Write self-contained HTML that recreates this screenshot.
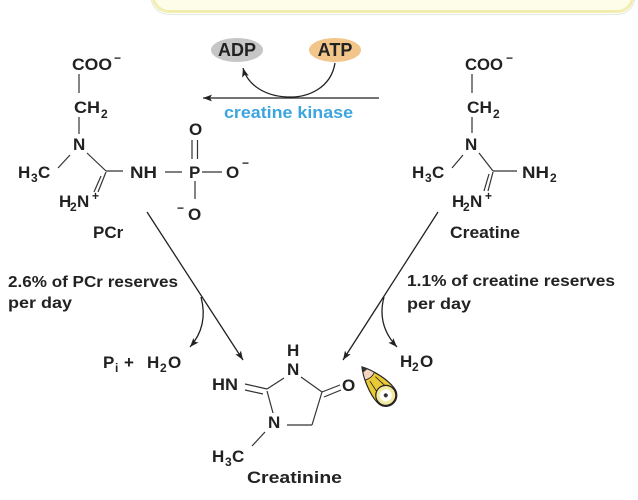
<!DOCTYPE html>
<html><head><meta charset="utf-8"><style>
html,body{margin:0;padding:0;background:#fff;}
svg{display:block;}
text{font-family:"Liberation Sans",sans-serif;font-weight:bold;fill:#222;}
.a{font-size:17px;}
.s{font-size:12px;}
.m{font-size:12px;}
.bd{stroke:#333;stroke-width:1.2;fill:none;}
.ar{stroke:#222;stroke-width:1.3;fill:none;}
</style></head><body>
<svg width="638" height="500" viewBox="0 0 638 500" xmlns="http://www.w3.org/2000/svg">
<defs>
<marker id="ah" markerUnits="userSpaceOnUse" markerWidth="10" markerHeight="8" refX="9" refY="4" orient="auto">
<path d="M0,0.6 L9,4 L0,7.4 L2,4 Z" fill="#222"/>
</marker>
</defs>
<rect x="0" y="0" width="638" height="500" fill="#fff"/>

<!-- top box -->
<rect x="151" y="-33" width="484" height="47.5" rx="18" fill="none" stroke="#dfeadf" stroke-width="1"/>
<rect x="153" y="-30" width="480" height="41.5" rx="16" fill="#fdfde9" stroke="#f2eeb0" stroke-width="3"/>

<!-- ADP / ATP -->
<ellipse cx="237" cy="50" rx="26" ry="12" fill="#c6c6c6"/>
<text x="237" y="56" font-size="18" text-anchor="middle">ADP</text>
<ellipse cx="335" cy="50" rx="26" ry="12" fill="#f2c58a"/>
<text x="335" y="56" font-size="18" text-anchor="middle">ATP</text>

<line class="ar" x1="379" y1="98" x2="203" y2="98" marker-end="url(#ah)"/>
<path class="ar" d="M335,63 C331,88 308,98 287,97 C266,96 248,86 243,68" marker-end="url(#ah)"/>
<text x="224" y="118" font-size="17" textLength="129" lengthAdjust="spacingAndGlyphs" style="fill:#3da5de">creatine kinase</text>

<!-- PCr -->
<text class="a" x="72" y="70" textLength="40" lengthAdjust="spacingAndGlyphs">COO</text>
<text class="m" x="114" y="62">−</text>
<line class="bd" x1="79" y1="74" x2="79" y2="93"/>
<text class="a" x="74" y="113" textLength="26" lengthAdjust="spacingAndGlyphs">CH</text>
<text class="s" x="101" y="118">2</text>
<line class="bd" x1="79" y1="117" x2="79" y2="134"/>
<text class="a" x="73" y="150">N</text>
<line class="bd" x1="70" y1="155" x2="58" y2="168"/>
<text class="a" x="18" y="178">H</text><text class="s" x="31" y="182">3</text><text class="a" x="38" y="178">C</text>
<line class="bd" x1="87" y1="153" x2="106" y2="171"/>
<line class="bd" x1="106" y1="171" x2="123" y2="171"/>
<line class="bd" x1="106" y1="172" x2="98" y2="192"/>
<line class="bd" x1="101" y1="176" x2="94" y2="192"/>
<text class="a" x="130" y="178" textLength="27" lengthAdjust="spacingAndGlyphs">NH</text>
<line class="bd" x1="165" y1="172" x2="182" y2="172"/>
<text class="a" x="189" y="178">P</text>
<line class="bd" x1="202" y1="172" x2="222" y2="172"/>
<text class="a" x="226" y="178">O</text>
<text class="m" x="242" y="167">−</text>
<line class="bd" x1="192" y1="140" x2="192" y2="159"/>
<line class="bd" x1="197.5" y1="140" x2="197.5" y2="159"/>
<text class="a" x="189" y="135">O</text>
<line class="bd" x1="195" y1="181" x2="195" y2="199"/>
<text class="m" x="177" y="212">−</text>
<text class="a" x="188" y="220">O</text>
<text class="a" x="59" y="207">H</text><text class="s" x="70" y="211">2</text><text class="a" x="77" y="207">N</text>
<text class="m" x="92" y="200">+</text>
<text class="a" x="93" y="238">PCr</text>

<!-- Creatine -->
<text class="a" x="465" y="70" textLength="38" lengthAdjust="spacingAndGlyphs">COO</text>
<text class="m" x="506" y="62">−</text>
<line class="bd" x1="472" y1="74" x2="472" y2="93"/>
<text class="a" x="467" y="113" textLength="25" lengthAdjust="spacingAndGlyphs">CH</text>
<text class="s" x="493" y="118">2</text>
<line class="bd" x1="472" y1="117" x2="472" y2="133"/>
<text class="a" x="465" y="150">N</text>
<line class="bd" x1="463" y1="155" x2="452" y2="168"/>
<text class="a" x="412" y="178">H</text><text class="s" x="425" y="182">3</text><text class="a" x="432" y="178">C</text>
<line class="bd" x1="479" y1="153" x2="493" y2="171"/>
<line class="bd" x1="493" y1="171" x2="517" y2="171"/>
<line class="bd" x1="493" y1="172" x2="488" y2="191"/>
<line class="bd" x1="489" y1="174" x2="484" y2="191"/>
<text class="a" x="522" y="178" textLength="27" lengthAdjust="spacingAndGlyphs">NH</text>
<text class="s" x="550" y="182">2</text>
<text class="a" x="452" y="207">H</text><text class="s" x="463" y="211">2</text><text class="a" x="470" y="207">N</text>
<text class="m" x="485" y="200">+</text>
<text x="450" y="238" font-size="17" textLength="70" lengthAdjust="spacingAndGlyphs">Creatine</text>

<!-- main arrows -->
<line class="ar" x1="147" y1="212" x2="243" y2="360" marker-end="url(#ah)"/>
<line class="ar" x1="438" y1="212" x2="343" y2="360" marker-end="url(#ah)"/>
<path class="ar" d="M201,297 C205,312 205,330 190,347" marker-end="url(#ah)"/>
<path class="ar" d="M384,297 C380,312 381,330 397,347" marker-end="url(#ah)"/>

<text x="8" y="287" font-size="16" textLength="170" lengthAdjust="spacingAndGlyphs">2.6% of PCr reserves</text>
<text x="8" y="308" font-size="16" textLength="64" lengthAdjust="spacingAndGlyphs">per day</text>
<text x="407" y="286" font-size="16" textLength="208" lengthAdjust="spacingAndGlyphs">1.1% of creatine reserves</text>
<text x="407" y="309" font-size="16" textLength="64" lengthAdjust="spacingAndGlyphs">per day</text>

<text class="a" x="103" y="368">P</text><text class="s" x="115" y="372">i</text>
<text class="a" x="124" y="368">+</text>
<text class="a" x="147" y="368">H</text><text class="s" x="160" y="372">2</text><text class="a" x="168" y="368">O</text>

<text class="a" x="400" y="367">H</text><text class="s" x="412" y="371">2</text><text class="a" x="420" y="367">O</text>

<!-- Creatinine -->
<text class="a" x="287" y="356">H</text>
<text class="a" x="287" y="375">N</text>
<text class="a" x="212" y="390" textLength="26" lengthAdjust="spacingAndGlyphs">HN</text>
<line class="bd" x1="245" y1="384" x2="267" y2="389"/>
<line class="bd" x1="245" y1="390" x2="263" y2="394"/>
<line class="bd" x1="267" y1="389" x2="284" y2="378"/>
<line class="bd" x1="301" y1="377" x2="322" y2="392"/>
<line class="bd" x1="322" y1="392" x2="340" y2="385"/>
<line class="bd" x1="324" y1="397" x2="341" y2="390"/>
<text class="a" x="342" y="391">O</text>
<line class="bd" x1="322" y1="392" x2="312" y2="425"/>
<line class="bd" x1="312" y1="425" x2="287" y2="425"/>
<text class="a" x="268" y="428">N</text>
<line class="bd" x1="267" y1="391" x2="273" y2="413"/>
<line class="bd" x1="265" y1="432" x2="252" y2="446"/>
<text class="a" x="212" y="462">H</text><text class="s" x="225" y="466">3</text><text class="a" x="232" y="462">C</text>
<text x="247" y="483" font-size="17" textLength="95" lengthAdjust="spacingAndGlyphs">Creatinine</text>

<!-- pencil -->
<g transform="translate(362,367) rotate(50)">
<path d="M0,0 C9,-6 26,-12 37,-11 A11,11 0 0 1 37,11 C26,12 9,6 0,0 Z" fill="#e9c935" stroke="#222" stroke-width="1.2"/>
<path d="M0,0 C5,-3 9,-5 12,-6 Q15,0 12,6 C9,5 5,3 0,0 Z" fill="#f3d5c2" stroke="#222" stroke-width="0.8"/>
<path d="M0,0 L5,-2.5 L5,2.5 Z" fill="#333"/>
<line x1="16" y1="-4" x2="32" y2="-6" stroke="#222" stroke-width="0.8"/>
<line x1="16" y1="3" x2="32" y2="5" stroke="#222" stroke-width="0.8"/>
<circle cx="37" cy="0" r="10" fill="#f3e9a0" stroke="#222" stroke-width="1.2"/>
<circle cx="37" cy="0" r="6" fill="#fff"/>
<circle cx="37" cy="0" r="2" fill="#333"/>
</g>
</svg>
</body></html>
